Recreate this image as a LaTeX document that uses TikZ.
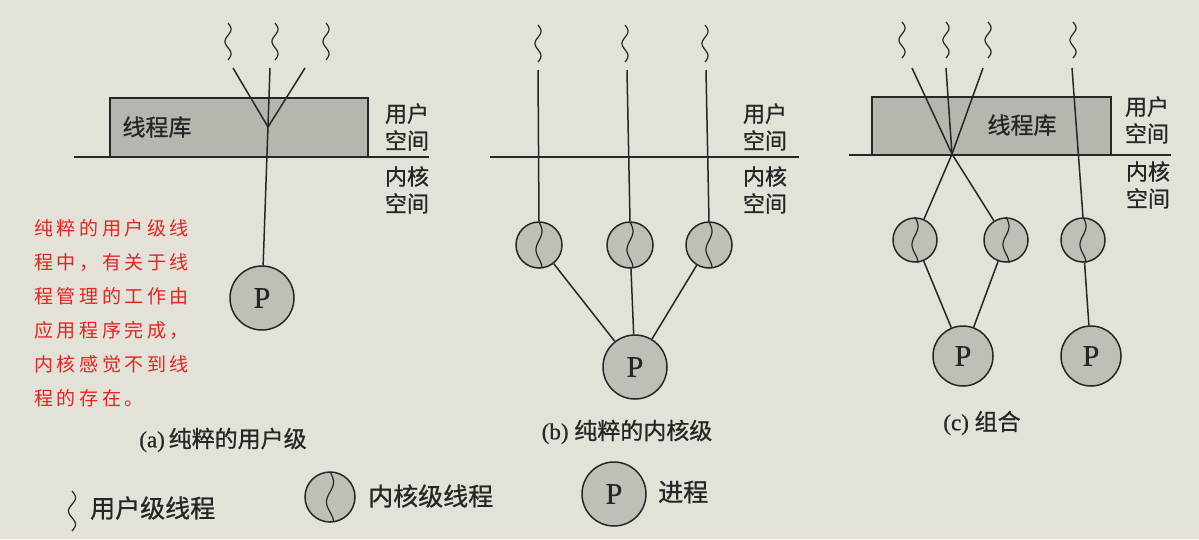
\documentclass[tikz,border=0pt]{standalone}
\usepackage{fontspec}
\setmainfont{Liberation Serif}
\newfontfamily\cjk[FakeBold=0.9]{Noto Sans CJK SC}
\newfontfamily\cjknote[LetterSpace=19]{Noto Sans CJK SC}
\newfontfamily\serifb[FakeBold=0.6]{Liberation Serif}
\definecolor{paper}{HTML}{E3E1D8}
\definecolor{shade}{HTML}{C0BEB7}
\definecolor{libshade}{HTML}{B7B5AE}
\definecolor{ink}{HTML}{262626}
\definecolor{notecol}{HTML}{E52420}
\tikzset{
 ln/.style={draw=ink, line width=1.5pt},
 wv/.style={draw=ink, line width=1.2pt},
 sepline/.style={draw=ink, line width=2.8pt},
 lib/.style={draw=ink, fill=libshade, line width=1.3pt},
 kt/.style={circle, draw=ink, fill=shade, line width=1.5pt, minimum size=46pt, inner sep=0pt},
 proc/.style={circle, draw=ink, fill=shade, line width=1.5pt, minimum size=64pt, inner sep=0pt, text=ink, font=\serifb\fontsize{30}{30}\selectfont},
 lbl/.style={text=ink, font=\cjk\fontsize{22}{27}\selectfont, align=left, inner sep=0pt},
 libtxt/.style={text=ink, font=\cjk\fontsize{23}{23}\selectfont, inner sep=0pt},
 captxt/.style={text=ink, font=\serifb\fontsize{23}{23}\selectfont, inner sep=0pt},
 legtxt/.style={text=ink, font=\cjk\fontsize{25}{25}\selectfont, anchor=west, inner sep=0pt},
}
% x, ytop, height, amplitude
\newcommand\wavyline[4]{\draw[wv] plot[domain=0:1,samples=41,smooth] ({#1+#4*sin(540*\x)},{#2+#3*\x});}
% kernel thread squiggle inside node
\newcommand\ktwave[1]{\begin{scope}[shift={(#1.center)}]\draw[wv] plot[domain=0:1,samples=41,smooth] ({3*sin(450*\x)},{-23+46*\x});\end{scope}}
\begin{document}
\begin{tikzpicture}[x=1pt,y=-1pt]
\fill[paper] (0,0) rectangle (1199,539);
\useasboundingbox (0,0) rectangle (1199,539);

% ---------------- (a) ----------------
\draw[lib] (110,157) -- (110,98) -- (368,98) -- (368,157);
\node[libtxt] (liba) at (157,127) {线程库};
\draw[sepline] (74,157) -- (429,157);
\wavyline{228}{23}{37}{3}
\wavyline{275}{23}{37}{3}
\wavyline{326}{23}{37}{3}
\coordinate (a1) at (233,68);
\coordinate (a2) at (270,68);
\coordinate (a3) at (305,68);
\coordinate (ja) at (268,127);
\node[proc] (pa) at (262,298) {P};
\draw[ln] (a1) -- (ja);
\draw[ln] (a3) -- (ja);
\draw[ln] (a2) -- (pa);
\node[lbl] (ua) at (407,127) {用户\\空间};
\node[lbl] (ka) at (407,190) {内核\\空间};
\node[anchor=north west, inner sep=0pt, align=left, text=notecol, font=\cjknote\fontsize{19}{34}\selectfont] (note) at (34,219)
 {纯粹的用户级线\\程中，有关于线\\程管理的工作由\\应用程序完成，\\内核感觉不到线\\程的存在。};
\node[captxt] (capa) at (223,440) {(a)\,{\cjk 纯粹的用户级}};

% ---------------- (b) ----------------
\draw[sepline] (490,157) -- (799,157);
\wavyline{538}{25}{37}{3}
\wavyline{625}{25}{37}{3}
\wavyline{705}{25}{37}{3}
\coordinate (b1) at (538,70);
\coordinate (b2) at (627,70);
\coordinate (b3) at (706,70);
\node[kt] (kb1) at (539,245) {};
\node[kt] (kb2) at (630,245) {};
\node[kt] (kb3) at (709,245) {};
\ktwave{kb1}\ktwave{kb2}\ktwave{kb3}
\node[proc] (pb) at (635,367) {P};
\draw[ln] (b1) -- (kb1.north);
\draw[ln] (b2) -- (kb2.north);
\draw[ln] (b3) -- (kb3.north);
\draw[ln] (kb1) -- (pb);
\draw[ln] (kb2) -- (pb);
\draw[ln] (kb3) -- (pb);
\node[lbl] (ub) at (765,127) {用户\\空间};
\node[lbl] (kb) at (765,190) {内核\\空间};
\node[captxt] (capb) at (627,432) {(b) {\cjk 纯粹的内核级}};

% ---------------- (c) ----------------
\draw[lib] (872,155) -- (872,97) -- (1111,97) -- (1111,155);
\node[libtxt] (libc) at (1022,125) {线程库};
\draw[sepline] (849,155) -- (1171,155);
\wavyline{902}{22}{36}{3}
\wavyline{946}{22}{36}{3}
\wavyline{988}{22}{36}{3}
\wavyline{1073}{22}{36}{3}
\coordinate (c1) at (912,68);
\coordinate (c2) at (946,68);
\coordinate (c3) at (983,68);
\coordinate (c4) at (1072,68);
\coordinate (jc) at (952,154);
\node[kt, minimum size=44pt] (kc1) at (915,240) {};
\node[kt, minimum size=44pt] (kc2) at (1006,240) {};
\node[kt, minimum size=44pt] (kc3) at (1083,240) {};
\ktwave{kc1}\ktwave{kc2}\ktwave{kc3}
\node[proc, minimum size=60pt] (pc1) at (963,356) {P};
\node[proc, minimum size=60pt] (pc2) at (1091,356) {P};
\draw[ln] (c1) -- (jc);
\draw[ln] (c2) -- (jc);
\draw[ln] (c3) -- (jc);
\draw[ln] (jc) -- (kc1);
\draw[ln] (jc) -- (kc2);
\draw[ln] (c4) -- (kc3.north);
\draw[ln] (kc1) -- (pc1);
\draw[ln] (kc2) -- (pc1);
\draw[ln] (kc3) -- (pc2);
\node[lbl] (uc) at (1147,120) {用户\\空间};
\node[lbl] (kc) at (1148,185) {内核\\空间};
\node[captxt] (capc) at (982,423) {(c) {\cjk 组合}};

% ---------------- legend ----------------
\wavyline{72}{491}{40}{3.5}
\node[legtxt] (lg1) at (90,508) {用户级线程};
\node[kt, minimum size=50pt] (lgk) at (330,497) {};
\begin{scope}[shift={(lgk.center)}]\draw[wv] plot[domain=0:1,samples=41,smooth] ({3.5*sin(450*\x)},{-25+50*\x});\end{scope}
\node[legtxt] (lg2) at (368,496) {内核级线程};
\node[proc] (lgp) at (614,494) {P};
\node[legtxt] (lg3) at (658,492) {进程};
\end{tikzpicture}
\end{document}
